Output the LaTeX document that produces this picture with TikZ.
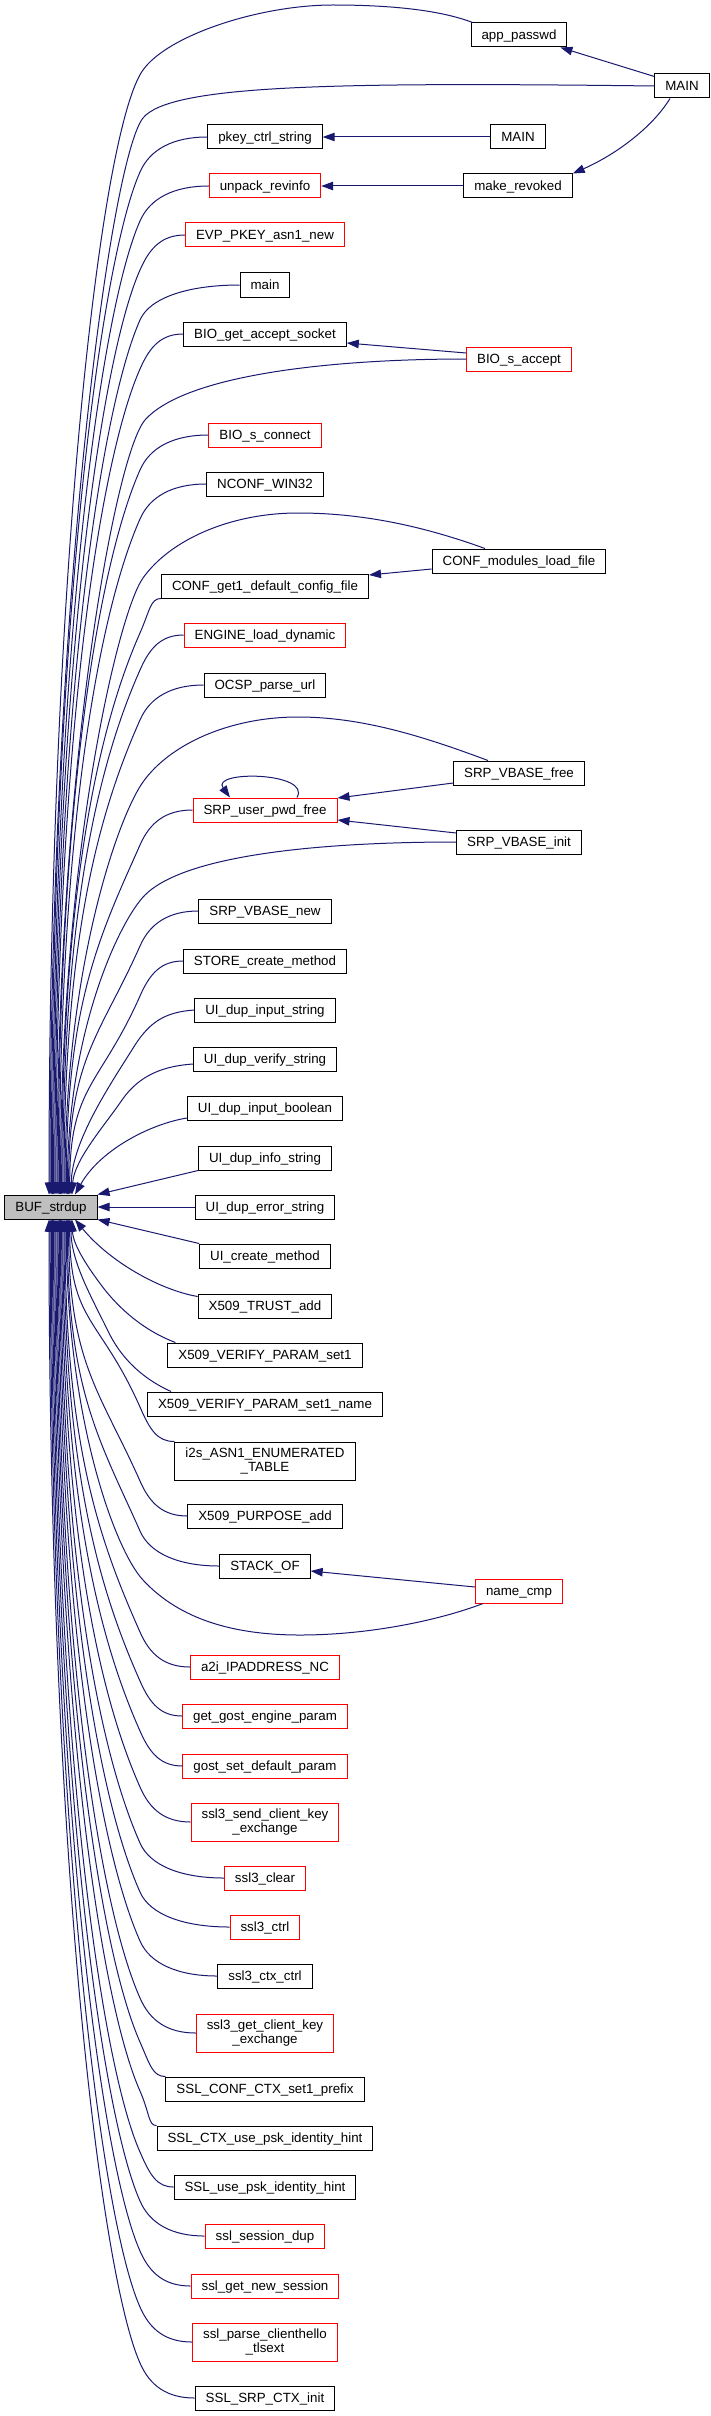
\documentclass[tikz,border=0pt]{standalone}
\usepackage{fontspec}
\setmainfont{Liberation Sans}
\usetikzlibrary{arrows.meta,calc}
\definecolor{edgec}{HTML}{191970}
\definecolor{bufgray}{HTML}{BFBFBF}
\newcommand\upE[4]{\draw[edge] let \p1=(#1.#2) in (\p1) .. controls ({0.5*\x1+70pt},\y1) and (150,#3+12) .. (140,#3+35) .. controls (100,#3+125) and (#4,{1195-0.55*(1160-#3)}) .. ([xshift={#4pt-51pt}]buf.north);}
\newcommand\dnE[4]{\draw[edge] let \p1=(#1.#2) in (\p1) .. controls ({0.5*\x1+70pt},\y1) and (150,#3-12) .. (140,#3-35) .. controls (100,#3-125) and (#4,{1219+0.55*(#3-1254)}) .. ([xshift={#4pt-51pt}]buf.south);}
\begin{document}
\begin{tikzpicture}[x=1pt,y=-1pt,
  base/.style={draw=black,line width=1pt,fill=white,inner xsep=10.5pt,inner ysep=0pt,font=\fontsize{13.33pt}{13.5pt}\selectfont},
  fn/.style={base,minimum height=24pt,text height=10.7pt,text depth=1.2pt},
  fn2/.style={base,minimum height=38pt,align=center},
  redn/.style={draw=red},
  edge/.style={draw=edgec,line width=1pt,-{Triangle[length=12pt,width=8.5pt]}}]
\fill[white] (0,0) rectangle (711,2416);
\useasboundingbox (0,0) rectangle (711,2416);
% nodes
\node[fn] (app) at (519,35) {app\_passwd};
\node[fn] (mainR) at (682,86) {MAIN};
\node[fn] (pkey) at (265,137) {pkey\_ctrl\_string};
\node[fn] (mainM) at (518,137) {MAIN};
\node[fn,redn] (unpack) at (265,186) {unpack\_revinfo};
\node[fn] (mk) at (518,186) {make\_revoked};
\node[fn,redn] (evp) at (265,235) {EVP\_PKEY\_asn1\_new};
\node[fn] (mainl) at (265,285) {main};
\node[fn] (bga) at (265,334) {BIO\_get\_accept\_socket};
\node[fn,redn] (bsa) at (519,359) {BIO\_s\_accept};
\node[fn,redn] (bsc) at (265,435) {BIO\_s\_connect};
\node[fn] (ncw) at (265,484) {NCONF\_WIN32};
\node[fn] (confm) at (519,561) {CONF\_modules\_load\_file};
\node[fn] (confg) at (265,586) {CONF\_get1\_default\_config\_file};
\node[fn,redn] (eng) at (265,635) {ENGINE\_load\_dynamic};
\node[fn] (ocsp) at (265,685) {OCSP\_parse\_url};
\node[fn] (srpf) at (519,773) {SRP\_VBASE\_free};
\node[fn,redn] (srpu) at (265,810) {SRP\_user\_pwd\_free};
\node[fn] (srpi) at (519,842) {SRP\_VBASE\_init};
\node[fn] (srpn) at (265,911) {SRP\_VBASE\_new};
\node[fn] (store) at (265,961) {STORE\_create\_method};
\node[fn] (uis) at (265,1010) {UI\_dup\_input\_string};
\node[fn] (uvs) at (265,1059) {UI\_dup\_verify\_string};
\node[fn] (uib) at (265,1108) {UI\_dup\_input\_boolean};
\node[fn] (uinfo) at (265,1158) {UI\_dup\_info\_string};
\node[fn,fill=bufgray] (buf) at (51,1207) {BUF\_strdup};
\node[fn] (uerr) at (265,1207) {UI\_dup\_error\_string};
\node[fn] (ucm) at (265,1256) {UI\_create\_method};
\node[fn] (xta) at (265,1306) {X509\_TRUST\_add};
\node[fn] (xvp) at (265,1355) {X509\_VERIFY\_PARAM\_set1};
\node[fn] (xvpn) at (265,1404) {X509\_VERIFY\_PARAM\_set1\_name};
\node[fn2] (i2s) at (265,1461) {i2s\_ASN1\_ENUMERATED\\\_TABLE};
\node[fn] (xpa) at (265,1516) {X509\_PURPOSE\_add};
\node[fn] (stack) at (265,1566) {STACK\_OF};
\node[fn,redn] (ncmp) at (519,1591) {name\_cmp};
\node[fn,redn] (a2i) at (265,1667) {a2i\_IPADDRESS\_NC};
\node[fn,redn] (ggep) at (265,1716) {get\_gost\_engine\_param};
\node[fn,redn] (gsdp) at (265,1766) {gost\_set\_default\_param};
\node[fn2,redn] (s3send) at (265,1822) {ssl3\_send\_client\_key\\\_exchange};
\node[fn,redn] (s3clear) at (265,1878) {ssl3\_clear};
\node[fn,redn] (s3ctrl) at (265,1927) {ssl3\_ctrl};
\node[fn] (s3ctx) at (265,1976) {ssl3\_ctx\_ctrl};
\node[fn2,redn] (s3get) at (265,2033) {ssl3\_get\_client\_key\\\_exchange};
\node[fn] (sslconf) at (265,2089) {SSL\_CONF\_CTX\_set1\_prefix};
\node[fn] (sslctx) at (265,2138) {SSL\_CTX\_use\_psk\_identity\_hint};
\node[fn] (ssluse) at (265,2187) {SSL\_use\_psk\_identity\_hint};
\node[fn,redn] (sdup) at (265,2236) {ssl\_session\_dup};
\node[fn,redn] (sgnew) at (265,2286) {ssl\_get\_new\_session};
\node[fn2,redn] (sparse) at (265,2342) {ssl\_parse\_clienthello\\\_tlsext};
\node[fn] (ssrp) at (265,2398) {SSL\_SRP\_CTX\_init};
% edges among callers
\draw[edge] ([yshift=-3pt]mainR.north west) -- ([xshift=-7pt]app.south east);
\draw[edge] ([xshift=-12pt]mainR.south) .. controls (652,128) and (615,155) .. (mk.north east);
\draw[edge] (mainM.west) -- (pkey.east);
\draw[edge] (mk.west) -- (unpack.east);
\draw[edge] ([yshift=6pt]bsa.west) -- ([yshift=-9pt]bga.east);
\draw[edge] ([yshift=-8pt]confm.west) -- ([yshift=11pt]confg.east);
\draw[edge] ([yshift=-10pt]srpf.west) -- ([yshift=12pt]srpu.east);
\draw[edge] ([yshift=9pt]srpi.west) -- ([yshift=-10pt]srpu.east);
\draw[edge] ([xshift=32pt]srpu.north) .. controls (312,772) and (210,770) .. ([xshift=-35pt]srpu.north);
\draw[edge] ([yshift=4pt]ncmp.west) -- ([yshift=-5pt]stack.east);
% edges into BUF_strdup from above
\draw[edge] ([xshift=2pt]app.north west) .. controls (440,10) and (390,5) .. (333,5) .. controls (260,5) and (168,35) .. (143,70) .. controls (100,130) and (49,580) .. ([xshift=-2pt]buf.north);
\draw[edge] (mainR.west) .. controls (330,82) and (170,85) .. (143,118) .. controls (110,160) and (50,603) .. ([xshift=-1pt]buf.north);
\upE{pkey}{west}{137}{51.3}
\upE{unpack}{west}{186}{52.5}
\upE{evp}{west}{235}{53.6}
\upE{mainl}{west}{285}{54.8}
\upE{bga}{west}{334}{55.9}
\draw[edge] (bsa.west) .. controls (330,359) and (185,375) .. (145,420) .. controls (115,455) and (57,769) .. ([xshift=6pt]buf.north);
\upE{bsc}{west}{435}{58.2}
\upE{ncw}{west}{484}{59.4}
\draw[edge] ([xshift=-34pt]confm.north) .. controls (420,525) and (360,513) .. (298,513) .. controls (230,513) and (170,540) .. (143,578) .. controls (118,613) and (60.5,856) .. ([xshift=9.5pt]buf.north);
\upE{confg}{south west}{598}{61.7}
\upE{eng}{west}{635}{62.8}
\upE{ocsp}{west}{685}{64}
\draw[edge] ([xshift=-31pt]srpf.north) .. controls (420,735) and (360,717) .. (298,717) .. controls (230,717) and (170,744) .. (143,782) .. controls (118,817) and (65,968) .. ([xshift=14pt]buf.north);
\upE{srpu}{west}{810}{66.3}
\draw[edge] (srpi.west) .. controls (320,842) and (185,855) .. (145,895) .. controls (120,920) and (67.4,1030) .. ([xshift=16.4pt]buf.north);
\upE{srpn}{west}{911}{68.6}
\upE{store}{west}{961}{69.7}
\draw[edge] (uis.west) .. controls (165,1012) and (150,1022) .. (135,1045) .. controls (112,1082) and (72,1140) .. ([xshift=20pt]buf.north);
\draw[edge] ([yshift=-5pt]uvs.west) .. controls (165,1066) and (140,1074) .. (122,1100) .. controls (105,1125) and (74,1160) .. ([xshift=21pt]buf.north);
\draw[edge] ([yshift=-10pt]uib.west) .. controls (150,1124) and (100,1150) .. ([xshift=24pt]buf.north);
\draw[edge] (uinfo.south west) -- (buf.north east);
\draw[edge] (uerr.west) -- (buf.east);
% edges into BUF_strdup from below
\draw[edge] (ucm.north west) -- (buf.south east);
\draw[edge] ([yshift=-3pt]xta.north west) .. controls (160,1290) and (110,1262) .. ([xshift=24pt]buf.south);
\draw[edge] ([xshift=8pt]xvp.north west) .. controls (150,1333) and (125,1315) .. (105,1290) .. controls (88,1268) and (73,1245) .. ([xshift=21pt]buf.south);
\draw[edge] ([xshift=24pt]xvpn.north west) .. controls (150,1382) and (125,1365) .. (109,1333) .. controls (92,1298) and (71,1262) .. ([xshift=20pt]buf.south);
\dnE{i2s}{north west}{1442}{69.7}
\dnE{xpa}{west}{1516}{68.6}
\dnE{stack}{west}{1566}{67.4}
\draw[edge] ([xshift=-36pt]ncmp.south) .. controls (440,1620) and (370,1635) .. (300,1635) .. controls (235,1635) and (180,1620) .. (143,1580) .. controls (115,1550) and (66.3,1418) .. ([xshift=15.3pt]buf.south);
\dnE{a2i}{west}{1667}{65}
\dnE{ggep}{west}{1716}{64}
\dnE{gsdp}{west}{1766}{62.8}
\dnE{s3send}{west}{1822}{61.7}
\dnE{s3clear}{west}{1878}{60.5}
\dnE{s3ctrl}{west}{1927}{59.4}
\dnE{s3ctx}{west}{1976}{58.2}
\dnE{s3get}{west}{2033}{57}
\dnE{sslconf}{north west}{2077}{55.9}
\dnE{sslctx}{north west}{2126}{54.8}
\dnE{ssluse}{west}{2187}{53.6}
\dnE{sdup}{west}{2236}{52.5}
\dnE{sgnew}{west}{2286}{51.3}
\dnE{sparse}{west}{2342}{50.2}
\dnE{ssrp}{west}{2398}{49}
\end{tikzpicture}
\end{document}
